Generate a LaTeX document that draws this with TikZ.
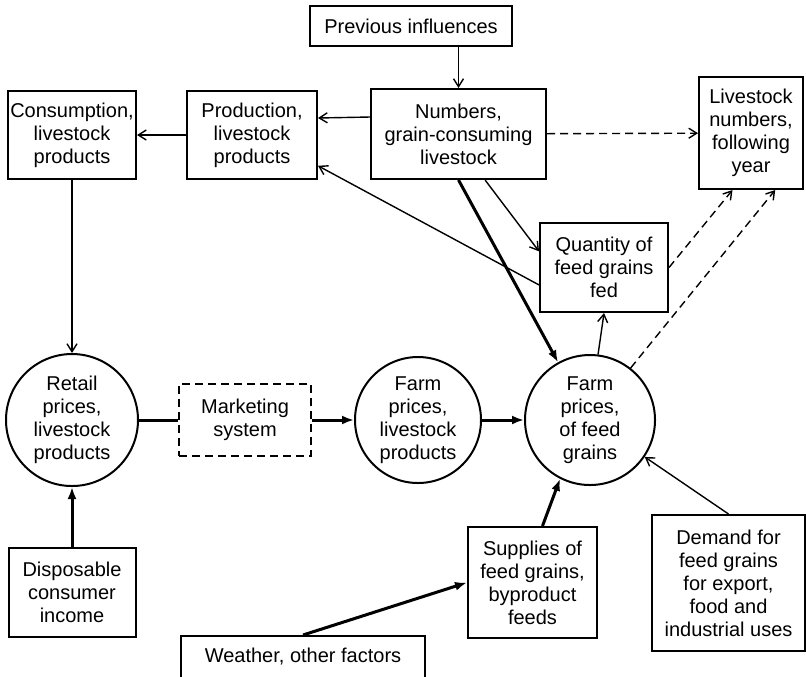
\documentclass[tikz,border=0pt]{standalone}
\usepackage{fontspec}
\setmainfont{Liberation Sans}
\usetikzlibrary{arrows.meta}

\begin{document}
\begin{tikzpicture}[x=0.5pt, y=-0.5pt,
    font=\fontsize{10}{11.5}\selectfont,
    blk/.style={draw, rectangle, line width=1pt, align=center, inner sep=1pt},
    rnd/.style={draw, circle, line width=1pt, align=center, inner sep=0pt},
    thinarr/.style={line width=0.7pt, -{Straight Barb[length=4pt,width=5pt]}},
    thickarr/.style={line width=1.5pt, -{Latex[length=6pt,width=4.5pt]}},
    dasharr/.style={thinarr, dash pattern=on 4pt off 2.5pt}]
    \useasboundingbox (0,0) rectangle (806,676);

    % top row
    \node[blk, minimum width=101pt, minimum height=20pt] (prev) at (411,26) {Previous influences};
    \node[blk, minimum width=87.5pt, minimum height=45pt] (numbers) at (458.5,134) {Numbers,\\grain-consuming\\livestock};
    \node[blk, minimum width=52pt, minimum height=56pt] (lsnext) at (751,133) {Livestock\\numbers,\\following\\year};
    \node[blk, minimum width=65pt, minimum height=44pt] (prod) at (252,135) {Production,\\livestock\\products};
    \node[blk, minimum width=64pt, minimum height=44pt] (cons) at (72,135) {Consumption,\\livestock\\products};
    \node[blk, minimum width=64pt, minimum height=44.5pt] (qty) at (604,267.5) {Quantity of\\feed grains\\fed};

    % prices row
    \node[rnd, minimum size=66pt] (retail) at (72,420) {Retail\\prices,\\livestock\\products};
    \node[blk, dash pattern=on 4pt off 2.5pt, minimum width=66pt, minimum height=36pt] (mkt) at (245,420) {Marketing\\system};
    \node[rnd, minimum size=63pt] (farmls) at (418,420) {Farm\\prices,\\livestock\\products};
    \node[rnd, minimum size=65pt] (farmfg) at (590,420) {Farm\\prices,\\of feed\\grains};

    % bottom row
    \node[blk, minimum width=63.5pt, minimum height=44.5pt] (disp) at (72,592.5) {Disposable\\consumer\\income};
    \node[blk, minimum width=122pt, minimum height=21pt] (weather) at (303,657) {Weather, other factors};
    \node[blk, minimum width=64.5pt, minimum height=55.5pt] (supp) at (532.5,582.5) {Supplies of\\feed grains,\\byproduct\\feeds};
    \node[blk, minimum width=76.5pt, minimum height=68pt] (demand) at (728.5,583) {Demand for\\feed grains\\for export,\\food and\\industrial uses};

    % thin arrows
    \draw[thinarr] (prev.south -| numbers) -- (numbers.north);
    \draw[thinarr] ([yshift=8.5pt]numbers.west) -- ([yshift=8.5pt]prod.east);
    \draw[thinarr] (prod) -- (cons);
    \draw[thinarr] (cons) -- (retail);
    \draw[thinarr] (numbers.-60) -- (qty.166);
    \draw[thinarr] (qty.195) -- (prod.-25);
    \draw[thinarr] (farmfg.83) -- (qty.south);
    \draw[thinarr] (demand.north) -- (farmfg.-34);

    % thick arrows
    \draw[thickarr] (disp) -- (retail);
    \draw[line width=1.5pt] (retail) -- (mkt);
    \draw[thickarr] (mkt) -- (farmls);
    \draw[thickarr] (farmls) -- (farmfg);
    \draw[thickarr] (numbers.south) -- (farmfg.119);
    \draw[thickarr] (supp.80) -- (farmfg.-117);
    \draw[thickarr] (weather.north) -- (supp.west);

    % following year
    \draw[dasharr] (numbers) -- (lsnext);
    \draw[dasharr] (qty.east) -- (lsnext.-108);
    \draw[dasharr] (farmfg.52) -- (lsnext.-67);
\end{tikzpicture}
\end{document}
